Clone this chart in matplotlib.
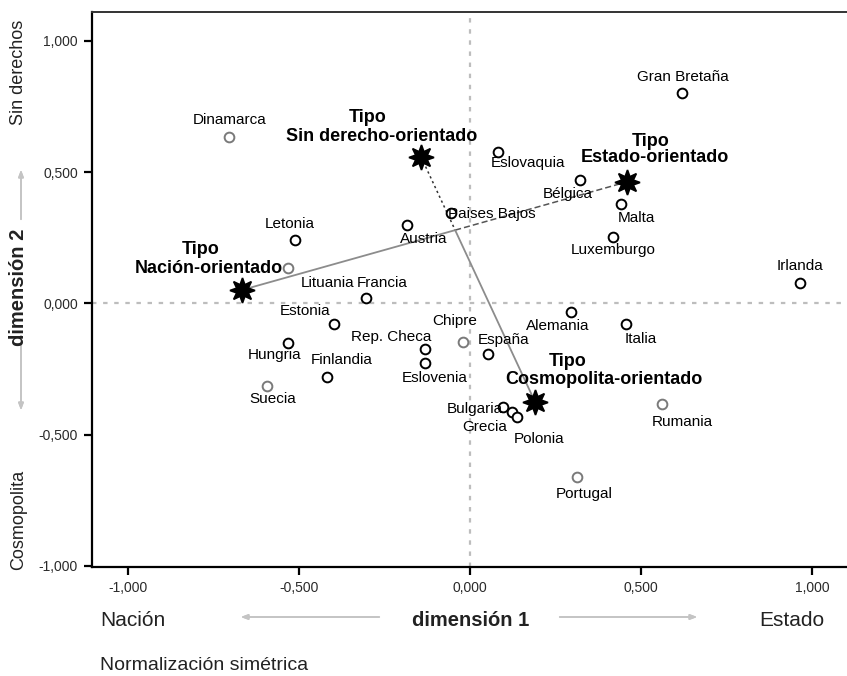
import matplotlib
matplotlib.use("Agg")
import matplotlib.pyplot as plt
from matplotlib.ticker import FuncFormatter

plt.rcParams["font.family"] = ["Liberation Sans", "DejaVu Sans"]

# country scores (symmetric normalisation)
countries = ["Dinamarca", "Gran Bretaña", "Eslovaquia", "Bélgica", "Malta",
             "Paises Bajos", "Austria", "Letonia", "Luxemburgo", "Lituania",
             "Francia", "Irlanda", "Estonia", "Alemania", "Italia", "Chipre",
             "Rep. Checa", "Hungria", "España", "Eslovenia", "Finlandia",
             "Suecia", "Bulgaria", "Grecia", "Polonia", "Rumania", "Portugal"]
dim1 = [-0.705, 0.620, 0.082, 0.322, 0.442, -0.056, -0.184, -0.512, 0.418,
        -0.532, -0.304, 0.965, -0.398, 0.295, 0.456, -0.020, -0.132, -0.532,
        0.053, -0.132, -0.418, -0.594, 0.096, 0.123, 0.137, 0.561, 0.313]
dim2 = [0.634, 0.802, 0.577, 0.470, 0.379, 0.345, 0.299, 0.242, 0.253,
        0.135, 0.021, 0.078, -0.078, -0.032, -0.078, -0.147, -0.173, -0.150,
        -0.192, -0.227, -0.280, -0.314, -0.394, -0.413, -0.432, -0.383, -0.661]

# category points of "Tipo"
tipos = ["Sin derecho-orientado", "Estado-orientado",
         "Nación-orientado", "Cosmopolita-orientado"]
tipo_dim1 = [-0.143, 0.459, -0.667, 0.190]
tipo_dim2 = [0.558, 0.463, 0.051, -0.375]

ticks = [-1.0, -0.5, 0.0, 0.5, 1.0]

# label placement, offsets in pixels from the marker
country_offsets = {
    "Dinamarca": (1, 17), "Gran Bretaña": (1, 16), "Eslovaquia": (30, -11),
    "Bélgica": (-12, -14), "Malta": (15, -14), "Austria": (17, -14),
    "Letonia": (-5, 16), "Luxemburgo": (0, -13), "Lituania": (40, -15),
    "Francia": (16, 15), "Irlanda": (0, 17), "Estonia": (-29, 13),
    "Alemania": (-13, -14), "Italia": (15, -15), "Chipre": (-8, 21),
    "Rep. Checa": (-34, 12), "Hungria": (-13, -12), "España": (15, 14),
    "Eslovenia": (10, -15), "Finlandia": (15, 17), "Suecia": (6, -13),
    "Bulgaria": (-28, -2), "Grecia": (-27, -15), "Polonia": (22, -22),
    "Rumania": (20, -18), "Portugal": (7, -17),
}
grey_markers = {"Dinamarca", "Lituania", "Suecia", "Chipre", "Rumania", "Portugal"}
tipo_offsets = {
    "Sin derecho-orientado": ((-53, 39), (-39, 20)),
    "Estado-orientado": ((24, 40), (28, 24)),
    "Nación-orientado": ((-41, 41), (-33, 22)),
    "Cosmopolita-orientado": ((33, 40), (69, 22)),
}

W, H = 847, 676
fig = plt.figure(figsize=(W / 100, H / 100), dpi=100)
ax = fig.add_axes([92 / W, 1 - 567 / H, 1 - 92 / W, (567 - 12) / H])
ax.set_xlim(-1.105, 1.102)
ax.set_ylim(-1.004, 1.110)

ax.axhline(0, color="#bdbdbd", lw=1.6, ls=(0, (2, 3)), zorder=1)
ax.axvline(0, color="#bdbdbd", lw=1.6, ls=(0, (2, 3)), zorder=1)

# joining lines between opposite category points
sx, ex, nx, cx = tipo_dim1
sy, ey, ny, cy = tipo_dim2
# crossing point of Nación-Estado and Sin derecho-Cosmopolita lines
d1x, d1y = ex - nx, ey - ny
d2x, d2y = cx - sx, cy - sy
den = d1x * d2y - d1y * d2x
t = ((sx - nx) * d2y - (sy - ny) * d2x) / den
mx, my = nx + t * d1x, ny + t * d1y
ax.plot([nx, mx], [ny, my], color="#8c8c8c", lw=1.3, zorder=2)
ax.plot([mx, ex], [my, ey], color="#555555", lw=1.1, ls=(0, (4, 2)), zorder=2)
ax.plot([sx, mx], [sy, my], color="#333333", lw=1.1, ls=(0, (1.5, 2)), zorder=2)
ax.plot([mx, cx], [my, cy], color="#8c8c8c", lw=1.3, zorder=2)

for name, x, y in zip(countries, dim1, dim2):
    ec = "#7a7a7a" if name in grey_markers else "black"
    ax.plot(x, y, "o", ms=7, mfc="white", mec=ec, mew=1.4, zorder=3)
    if name == "Paises Bajos":
        ax.annotate(name, (x, y), xytext=(-3, -1), textcoords="offset pixels",
                    ha="left", va="center", fontsize=11, zorder=4)
    else:
        ax.annotate(name, (x, y), xytext=country_offsets[name],
                    textcoords="offset pixels", ha="center", va="center",
                    fontsize=11, zorder=4)

for name, x, y in zip(tipos, tipo_dim1, tipo_dim2):
    ax.plot(x, y, marker=(8, 1, 0), ms=18, color="black", mec="black",
            mew=1.2, zorder=5)
    off_tipo, off_name = tipo_offsets[name]
    ax.annotate("Tipo", (x, y), xytext=off_tipo, textcoords="offset pixels",
                ha="center", va="center", fontsize=13, fontweight="bold")
    ax.annotate(name, (x, y), xytext=off_name, textcoords="offset pixels",
                ha="center", va="center", fontsize=13, fontweight="bold")

fmt = FuncFormatter(lambda v, _: f"{v:.3f}".replace(".", ",").replace("-0,000", "0,000"))
ax.set_xticks(ticks)
ax.set_yticks(ticks)
ax.xaxis.set_major_formatter(fmt)
ax.yaxis.set_major_formatter(fmt)
ax.tick_params(direction="out", length=6, width=1.6, labelsize=10,
               labelcolor="#2a2a2a", pad=4)
for side in ("left", "bottom"):
    ax.spines[side].set_linewidth(1.6)
ax.spines["top"].set_linewidth(1.4)
ax.spines["top"].set_color("#333333")
ax.spines["right"].set_visible(False)


def fx(px):
    return px / W


def fy(py):
    return 1 - py / H


arrow = dict(arrowstyle="-|>,head_length=0.4,head_width=0.15",
             color="#c4c4c4", lw=1.2)

# dimension 1 title row
fig.text(fx(133), fy(620), "Nación", ha="center", va="center",
         fontsize=15, color="#222222")
fig.text(fx(471), fy(620), "dimensión 1", ha="center", va="center",
         fontsize=14.5, fontweight="bold", color="#222222")
fig.text(fx(792), fy(620), "Estado", ha="center", va="center",
         fontsize=15, color="#222222")
fig.add_artist(plt.annotate("", xy=(fx(238), fy(617)), xytext=(fx(382), fy(617)),
                            xycoords="figure fraction", arrowprops=arrow))
fig.add_artist(plt.annotate("", xy=(fx(700), fy(617)), xytext=(fx(557), fy(617)),
                            xycoords="figure fraction", arrowprops=arrow))

# dimension 2 title column
fig.text(fx(19), fy(72), "Sin derechos", ha="center", va="center", rotation=90,
         fontsize=13, color="#222222")
fig.text(fx(19), fy(287), "dimensión 2", ha="center", va="center", rotation=90,
         fontsize=14.5, fontweight="bold", color="#222222")
fig.text(fx(19), fy(520), "Cosmopolita", ha="center", va="center", rotation=90,
         fontsize=13, color="#222222")
fig.add_artist(plt.annotate("", xy=(fx(21), fy(167)), xytext=(fx(21), fy(222)),
                            xycoords="figure fraction", arrowprops=arrow))
fig.add_artist(plt.annotate("", xy=(fx(21), fy(413)), xytext=(fx(21), fy(333)),
                            xycoords="figure fraction", arrowprops=arrow))

fig.text(fx(100), fy(665), "Normalización simétrica", ha="left", va="center",
         fontsize=14, color="#222222")

fig.savefig("out.png", dpi=100)
